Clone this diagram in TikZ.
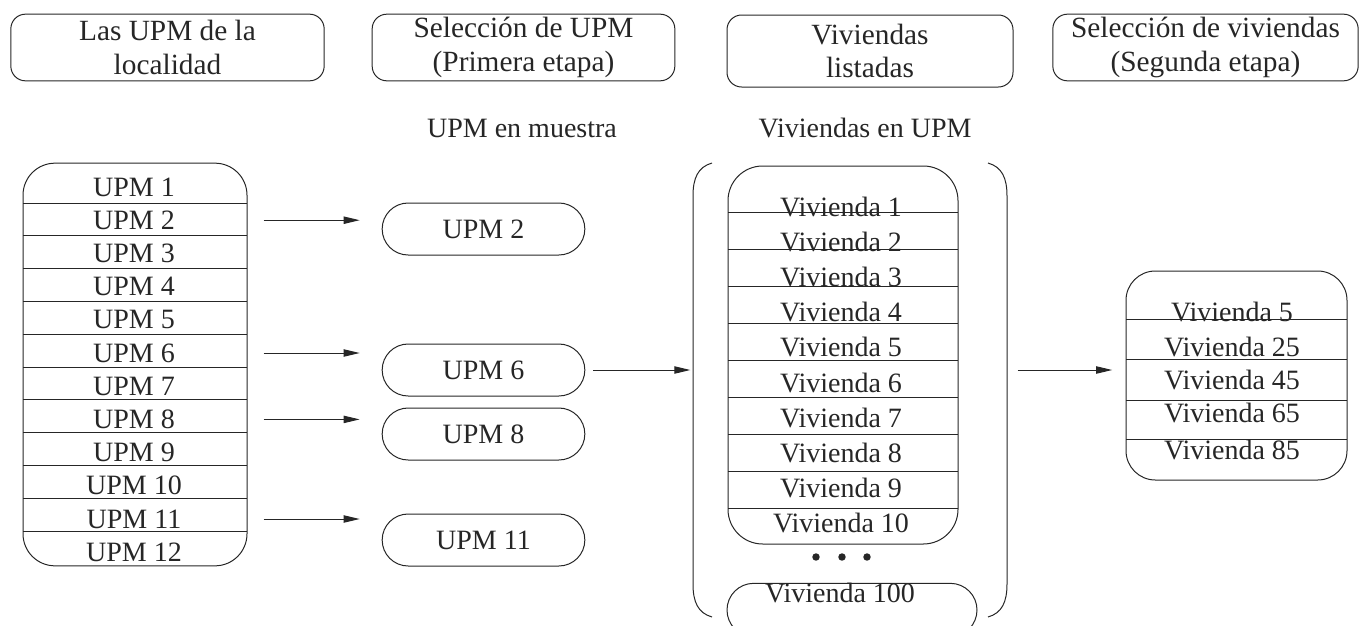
\documentclass[tikz,border=0pt]{standalone}
\usepackage{fontspec}
\setmainfont{Liberation Serif}
\usetikzlibrary{arrows.meta,shapes.misc,positioning}
\newcommand\diagfont{\fontsize{21}{25}\selectfont}
\tikzset{
  every node/.style={font=\diagfont, inner sep=0pt, text=black!85},
  headbox/.style={draw, rounded corners=11pt, align=center, minimum height=50pt, font=\fontsize{22}{25}\selectfont},
  listbox/.style={draw, rounded corners=24pt},
  stadium/.style={draw, rounded rectangle, minimum width=152pt, minimum height=39pt},
  arr/.style={-{Triangle[length=12pt,width=5.5pt]}},
}
\begin{document}
\begin{tikzpicture}[x=0.75pt, y=-0.75pt, line width=0.75pt, draw=black!85]
  \path[use as bounding box, clip] (0,0) rectangle (1360,625);
  % Header boxes
  \node[headbox, minimum width=235pt] (hlocal) at (167.5,47.5) {Las UPM de la\\localidad};
  \node[headbox, minimum width=227pt] (hprim) at (523.5,47.5) {Selección de UPM\\(Primera etapa)};
  \node[headbox, minimum width=214.5pt, minimum height=54pt] (hlist) at (870,51) {Viviendas\\listadas};
  \node[headbox, minimum width=229pt] (hseg) at (1205.5,47.5) {Selección de viviendas\\(Segunda etapa)};
  \node (lmuestra) at (522,128) {UPM en muestra};
  \node (lviv) at (865,128) {Viviendas en UPM};
  % UPM of the locality
  \node[listbox, minimum width=168pt, minimum height=302pt] (upmlist) at (135,364.5) {};
  \foreach \k in {0,...,10}
    \draw ({23},{203+32.8*\k}) -- ({247},{203+32.8*\k});
  \foreach \i in {1,...,12}
    \node (u\i) at (134,{187+33.2*(\i-1)}) {UPM \i};
  % Sampled UPM
  \node[stadium] (s2) at (483.5,229) {UPM 2};
  \node[stadium] (s6) at (483.5,370) {UPM 6};
  \node[stadium] (s8) at (483.5,434) {UPM 8};
  \node[stadium] (s11) at (483.5,540) {UPM 11};
  \foreach \i in {2,6,8,11}
    \draw[arr] ([xshift=12pt]upmlist.east |- u\i) -- ([xshift=-16.5pt]s\i.west |- u\i);
  % Bracket
  \coordinate (brl) at (693,370);
  \coordinate (brr) at (1007,370);
  \draw (712,163) .. controls (698,167) and (693,178) .. (693,196) -- (693,584)
        .. controls (693,602) and (698,613) .. (712,617);
  \draw (988,163) .. controls (1002,167) and (1007,178) .. (1007,196) -- (1007,584)
        .. controls (1007,602) and (1002,613) .. (988,617);
  \draw[arr] ([xshift=6pt]s6.east) -- ([xshift=-2pt]brl);
  % Listed dwellings
  \node[listbox, rounded corners=26pt, minimum width=172.5pt, minimum height=283.5pt] (vlist) at (843,355) {};
  \foreach \k in {0,...,8}
    \draw ({728},{212+37*\k}) -- ({958},{212+37*\k});
  \foreach \i in {1,...,10}
    \node (v\i) at (841,{207+35.1*(\i-1)}) {Vivienda \i};
  \foreach \x in {816,842,867}
    \fill[black!85] (\x,557) circle (2.8pt);
  \node[stadium, minimum width=187.5pt, minimum height=40pt] (v100box) at (852,610) {};
  \node (v100) at (840,593) {Vivienda 100};
  % Selected dwellings
  \node[listbox, rounded corners=22pt, minimum width=165.75pt, minimum height=156.75pt] (selv) at (1236.5,375.5) {};
  \foreach \y in {319,359,400,439}
    \draw (1126,\y) -- (1347,\y);
  \node (w5) at (1232,312) {Vivienda 5};
  \node (w25) at (1232,347) {Vivienda 25};
  \node (w45) at (1232,380) {Vivienda 45};
  \node (w65) at (1232,413) {Vivienda 65};
  \node (w85) at (1232,450) {Vivienda 85};
  \draw[arr] ([xshift=8pt]brr) -- ([xshift=-10pt]selv.west |- brr);
\end{tikzpicture}
\end{document}
